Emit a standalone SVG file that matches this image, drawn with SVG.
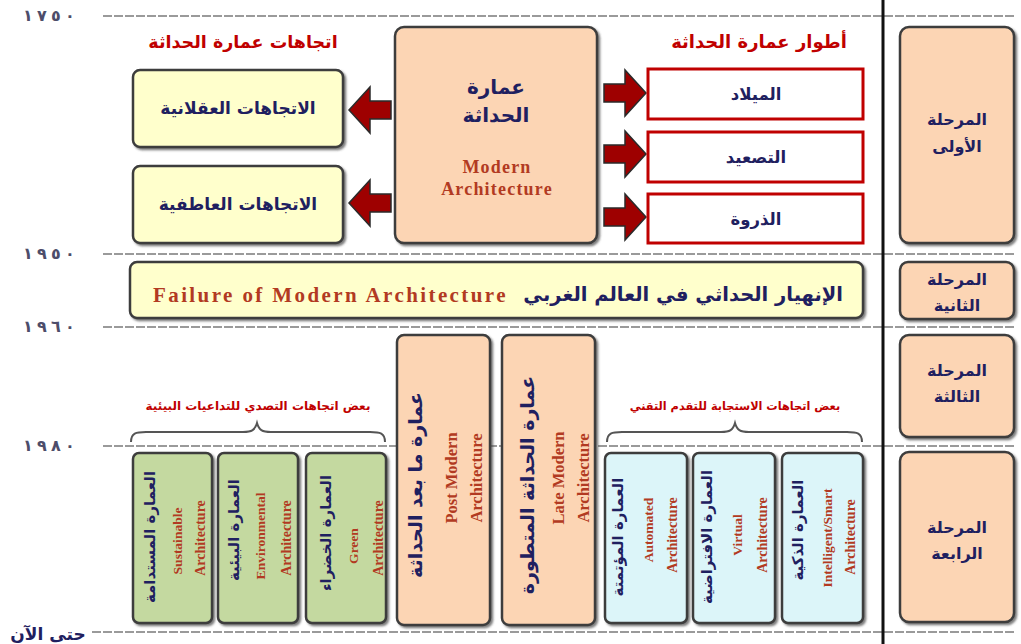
<svg xmlns="http://www.w3.org/2000/svg" width="1021" height="644" viewBox="0 0 1021 644">
<defs>
<filter id="sh" x="-10%" y="-10%" width="130%" height="130%">
<feDropShadow dx="2" dy="2" stdDeviation="1.2" flood-color="#444" flood-opacity="0.7"/>
</filter>
<path id="rarrow" d="M-21,-9 L0,-9 L0,-23 L21,0 L0,23 L0,9 L-21,9 Z"/>
</defs>
<style>
.box{stroke:#3c3c3c;stroke-width:2.5;filter:url(#sh)}
.peach{fill:#FCD5B4}
.yel{fill:#FFFFCC}
.grn{fill:#C4D9A0}
.blu{fill:#DCF5F9}
.red{fill:#ffffff;stroke:#C00000;stroke-width:3}
.ar{font-family:"DejaVu Sans",sans-serif;font-weight:bold;fill:#1F2060}
.en{font-family:"Liberation Serif",serif;font-weight:bold;fill:#B23A22}
.ttl{font-family:"DejaVu Sans",sans-serif;font-weight:bold;fill:#C00000}
.yr{font-family:"DejaVu Sans",sans-serif;font-weight:bold;fill:#4d4d6a;font-size:16px}
.dash{stroke:#7a7a7a;stroke-width:1.6;stroke-dasharray:9 2;fill:none}
.arr{fill:#9E0000;stroke:#2a2a2a;stroke-width:1.5}
.brace{fill:none;stroke:#555;stroke-width:2}
</style>

<g id="timeline">
<line class="dash" x1="103" y1="16" x2="1016" y2="16"/>
<line class="dash" x1="103" y1="254" x2="1016" y2="254"/>
<line class="dash" x1="103" y1="327" x2="1016" y2="327"/>
<line class="dash" x1="103" y1="446" x2="1016" y2="446"/>
<line class="dash" x1="92" y1="632" x2="1016" y2="632"/>
<text class="yr" x="23 37 51 65" y="21">١٧٥٠</text>
<text class="yr" x="23 37 51 65" y="259">١٩٥٠</text>
<text class="yr" x="23 37 51 65" y="332">١٩٦٠</text>
<text class="yr" x="23 37 51 65" y="451">١٩٨٠</text>
<text class="ar" x="48" y="640" font-size="17" text-anchor="middle">حتى الآن</text>
<line x1="883" y1="0" x2="883" y2="644" stroke="#111" stroke-width="3"/>
</g>

<g id="connectors">
<use href="#rarrow" class="arr" transform="translate(370,110) scale(-1,1)"/>
<use href="#rarrow" class="arr" transform="translate(370,203) scale(-1,1)"/>
<use href="#rarrow" class="arr" transform="translate(625,93)"/>
<use href="#rarrow" class="arr" transform="translate(625,154)"/>
<use href="#rarrow" class="arr" transform="translate(625,217)"/>
<path class="brace" d="M131,442 C131,433 136,432 146,432 L243,432 C252,432 255,430 257,423 C259,430 262,432 271,432 L370,432 C380,432 385,433 385,442"/>
<path class="brace" d="M607,442 C607,433 612,432 622,432 L721,432 C730,432 733,430 735,423 C737,430 740,432 749,432 L847,432 C857,432 862,433 862,442"/>
</g>

<text class="ttl" x="243" y="48" font-size="17.5" text-anchor="middle">اتجاهات عمارة الحداثة</text>
<text class="ttl" x="759" y="48" font-size="18" text-anchor="middle">أطوار عمارة الحداثة</text>

<g id="rational">
<rect class="box yel" x="133" y="70" width="210" height="77" rx="7"/>
<text class="ar" x="238" y="114" font-size="17" text-anchor="middle">الاتجاهات العقلانية</text>
</g>
<g id="emotional">
<rect class="box yel" x="133" y="166" width="210" height="77" rx="7"/>
<text class="ar" x="238" y="210" font-size="17" text-anchor="middle">الاتجاهات العاطفية</text>
</g>

<g id="modern">
<rect class="box peach" x="395" y="27" width="202" height="216" rx="9"/>
<text class="ar" x="496" y="94" font-size="20" text-anchor="middle">عمارة</text>
<text class="ar" x="496" y="122" font-size="20" text-anchor="middle">الحداثة</text>
<text class="en" x="497" y="173" font-size="18" letter-spacing="1.2" text-anchor="middle">Modern</text>
<text class="en" x="497" y="195" font-size="18" letter-spacing="1.2" text-anchor="middle">Architecture</text>
</g>

<g id="birth">
<rect class="red" x="648" y="69" width="215" height="50"/>
<text class="ar" x="756" y="100" font-size="16.5" text-anchor="middle">الميلاد</text>
</g>
<g id="escalation">
<rect class="red" x="648" y="132" width="215" height="50"/>
<text class="ar" x="756" y="163" font-size="16.5" text-anchor="middle">التصعيد</text>
</g>
<g id="peak">
<rect class="red" x="648" y="194" width="215" height="49"/>
<text class="ar" x="756" y="225" font-size="16.5" text-anchor="middle">الذروة</text>
</g>

<g id="failure">
<rect class="box yel" x="130" y="262" width="733" height="56" rx="7"/>
<text class="en" x="153" y="302" font-size="21" letter-spacing="2.4">Failure of Modern Architecture</text>
<text class="ar" x="843" y="301" font-size="19.5" text-anchor="end">الإنهيار الحداثي في العالم الغربي</text>
</g>

<g id="phase1">
<rect class="box peach" x="900" y="27" width="114" height="216" rx="9"/>
<text class="ar" x="957" y="125" font-size="16" text-anchor="middle">المرحلة</text>
<text class="ar" x="957" y="152" font-size="16" text-anchor="middle">الأولى</text>
</g>
<g id="phase2">
<rect class="box peach" x="900" y="262" width="114" height="57" rx="8"/>
<text class="ar" x="957" y="285" font-size="16" text-anchor="middle">المرحلة</text>
<text class="ar" x="957" y="311" font-size="16" text-anchor="middle">الثانية</text>
</g>
<g id="phase3">
<rect class="box peach" x="900" y="335" width="114" height="102" rx="9"/>
<text class="ar" x="957" y="376" font-size="16" text-anchor="middle">المرحلة</text>
<text class="ar" x="957" y="402" font-size="16" text-anchor="middle">الثالثة</text>
</g>
<g id="phase4">
<rect class="box peach" x="900" y="452" width="114" height="170" rx="9"/>
<text class="ar" x="957" y="533" font-size="16" text-anchor="middle">المرحلة</text>
<text class="ar" x="957" y="559" font-size="16" text-anchor="middle">الرابعة</text>
</g>

<text class="ttl" x="258" y="410" font-size="12" text-anchor="middle">بعض اتجاهات التصدي للتداعيات البيئية</text>
<text class="ttl" x="735" y="410" font-size="11.3" text-anchor="middle">بعض اتجاهات الاستجابة للتقدم التقني</text>

<g id="postmodern">
<rect class="box peach" x="397" y="335" width="93" height="290" rx="7"/>
<text class="ar" transform="translate(415,485) rotate(-90)" font-size="19" text-anchor="middle" dominant-baseline="central">عمارة ما بعد الحداثة</text>
<text class="en" transform="translate(451,478) rotate(-90)" font-size="16.5" text-anchor="middle" dominant-baseline="central">Post Modern</text>
<text class="en" transform="translate(476,478) rotate(-90)" font-size="16.5" text-anchor="middle" dominant-baseline="central">Architecture</text>
</g>
<g id="latemodern">
<rect class="box peach" x="502" y="335" width="93" height="290" rx="7"/>
<text class="ar" transform="translate(527,485) rotate(-90)" font-size="19" text-anchor="middle" dominant-baseline="central">عمارة الحداثة المتطورة</text>
<text class="en" transform="translate(558,478) rotate(-90)" font-size="16.5" text-anchor="middle" dominant-baseline="central">Late Modern</text>
<text class="en" transform="translate(583,478) rotate(-90)" font-size="16.5" text-anchor="middle" dominant-baseline="central">Architecture</text>
</g>

<g id="sustainable">
<rect class="box grn" x="133" y="453" width="79" height="170" rx="6"/>
<text class="ar" transform="translate(150,537) rotate(-90)" font-size="15" text-anchor="middle" dominant-baseline="central">العمارة المستدامة</text>
<text class="en" transform="translate(177,541) rotate(-90)" font-size="13.5" text-anchor="middle" dominant-baseline="central">Sustainable</text>
<text class="en" transform="translate(200,538) rotate(-90)" font-size="14" text-anchor="middle" dominant-baseline="central">Architecture</text>
</g>
<g id="environmental">
<rect class="box grn" x="218" y="453" width="80" height="170" rx="6"/>
<text class="ar" transform="translate(234,530) rotate(-90)" font-size="15" text-anchor="middle" dominant-baseline="central">العمارة البيئية</text>
<text class="en" transform="translate(260,536) rotate(-90)" font-size="13.5" text-anchor="middle" dominant-baseline="central">Environmental</text>
<text class="en" transform="translate(286,538) rotate(-90)" font-size="14" text-anchor="middle" dominant-baseline="central">Architecture</text>
</g>
<g id="green">
<rect class="box grn" x="306" y="453" width="80" height="170" rx="6"/>
<text class="ar" transform="translate(326,533) rotate(-90)" font-size="15" text-anchor="middle" dominant-baseline="central">العمارة الخضراء</text>
<text class="en" transform="translate(353,546) rotate(-90)" font-size="13.5" text-anchor="middle" dominant-baseline="central">Green</text>
<text class="en" transform="translate(378,538) rotate(-90)" font-size="14" text-anchor="middle" dominant-baseline="central">Architecture</text>
</g>

<g id="automated">
<rect class="box blu" x="605" y="453" width="82" height="170" rx="6"/>
<text class="ar" transform="translate(618,537) rotate(-90)" font-size="15" text-anchor="middle" dominant-baseline="central">العمارة المؤتمتة</text>
<text class="en" transform="translate(648,530) rotate(-90)" font-size="13.5" text-anchor="middle" dominant-baseline="central">Automated</text>
<text class="en" transform="translate(672,535) rotate(-90)" font-size="14" text-anchor="middle" dominant-baseline="central">Architecture</text>
</g>
<g id="virtual">
<rect class="box blu" x="693" y="453" width="82" height="170" rx="6"/>
<text class="ar" transform="translate(707,537) rotate(-90)" font-size="15" text-anchor="middle" dominant-baseline="central">العمارة الافتراضية</text>
<text class="en" transform="translate(737,535) rotate(-90)" font-size="13.5" text-anchor="middle" dominant-baseline="central">Virtual</text>
<text class="en" transform="translate(762,535) rotate(-90)" font-size="14" text-anchor="middle" dominant-baseline="central">Architecture</text>
</g>
<g id="smart">
<rect class="box blu" x="782" y="453" width="81" height="170" rx="6"/>
<text class="ar" transform="translate(798,530) rotate(-90)" font-size="15" text-anchor="middle" dominant-baseline="central">العمارة الذكية</text>
<text class="en" transform="translate(827,538) rotate(-90)" font-size="13.5" text-anchor="middle" dominant-baseline="central">Intelligent/Smart</text>
<text class="en" transform="translate(850,537) rotate(-90)" font-size="14" text-anchor="middle" dominant-baseline="central">Architecture</text>
</g>
</svg>
